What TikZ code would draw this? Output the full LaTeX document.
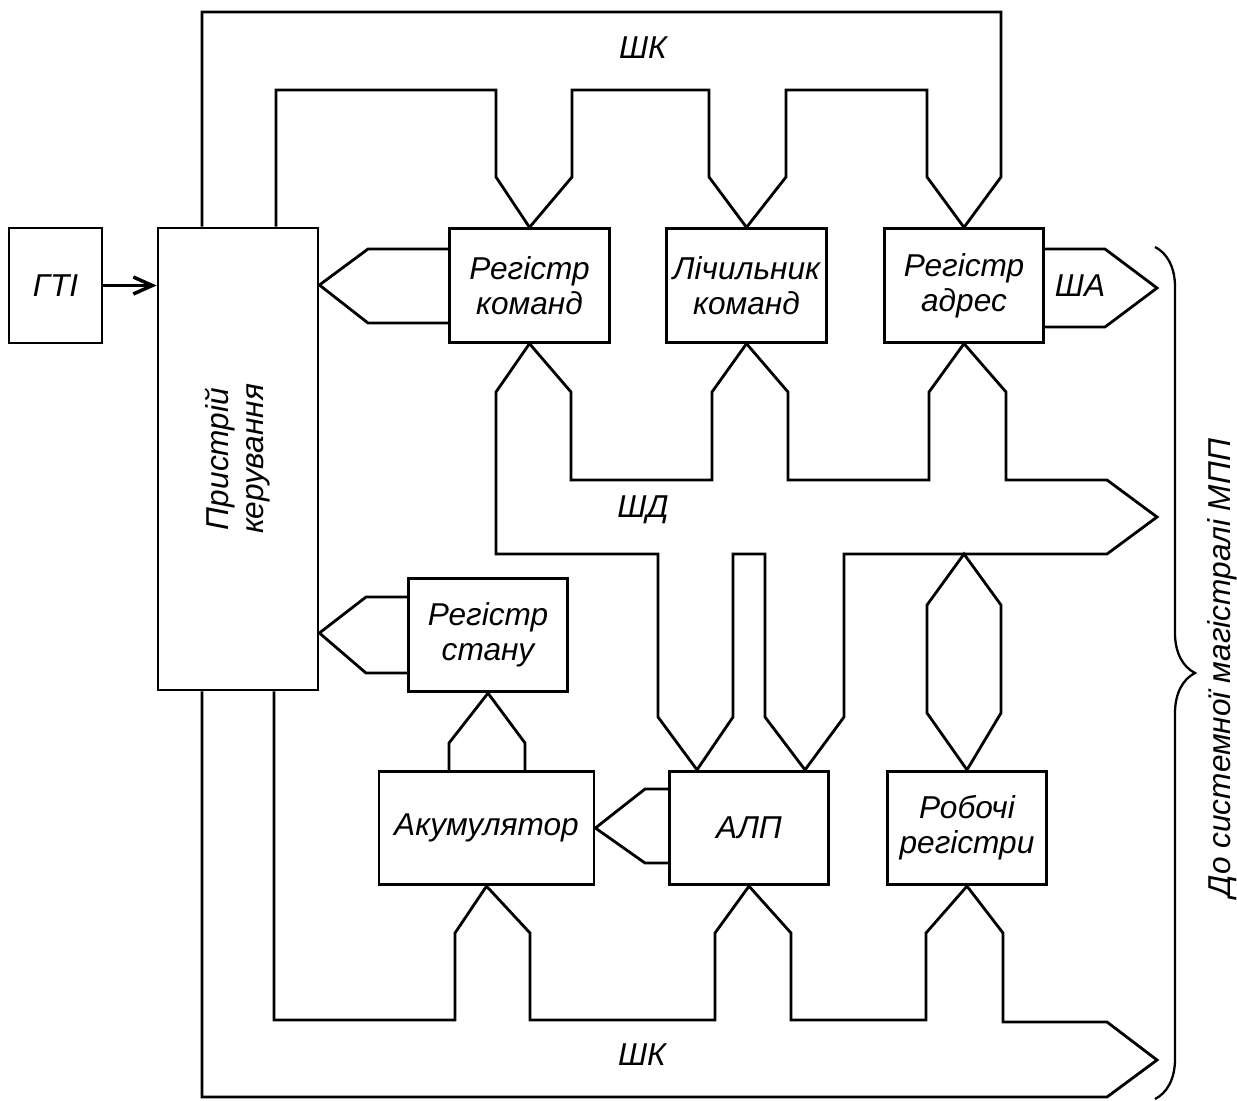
\documentclass[tikz,border=0pt]{standalone}
\usepackage{fontspec}
\setmainfont{Liberation Sans}
\usetikzlibrary{arrows.meta, decorations.pathreplacing}

\begin{document}
\begin{tikzpicture}[
    x=0.02cm, y=-0.02cm,
    txt/.style={font=\fontsize{18}{20}\selectfont\itshape},
    blk/.style={rectangle, draw, line width=1.6pt, inner sep=0pt, align=center, minimum width=3.19cm, minimum height=2.27cm, txt},
    bus/.style={line width=1.6pt}
]
\useasboundingbox (0,0) rectangle (1237,1100);

% blocks
\node[blk, minimum width=1.86cm, minimum height=2.3cm] (gti) at (55.5,285.5) {ГТІ};
\node[blk, minimum width=3.2cm, minimum height=9.24cm] (pk) at (238,459) {};
\node[txt, rotate=90, align=center] (pktext) at (pk.center) {Пристрій\\керування};
\node[blk] (rk) at (529.5,285.5) {Регістр\\команд};
\node[blk] (lk) at (746.5,285.5) {Лічильник\\команд};
\node[blk] (ra) at (964,285.5) {Регістр\\адрес};
\node[blk] (rs) at (488,635) {Регістр\\стану};
\node[blk, minimum width=4.3cm] (ak) at (486.5,828) {Акумулятор};
\node[blk] (alu) at (749,828) {АЛП};
\node[blk] (rr) at (967,828) {Робочі\\регістри};

% clock
\draw[line width=2pt, -{Straight Barb[length=0.38cm, width=0.34cm]}] (gti.east) -- (gti.east -| pk.west);

% control bus, top
\draw[bus] (pk.north -| 202,0) -- (202,12) -- (1001,12) -- (1001,177) -- (ra.north);
\draw[bus] (pk.north -| 276,0) -- (276,90) -- (496,90) -- (496,177) -- (rk.north) -- (572,177) -- (572,90)
    -- (709,90) -- (709,177) -- (lk.north) -- (786,177) -- (786,90)
    -- (927,90) -- (927,177) -- (ra.north);
\node[txt] (shk1) at (643,48) {ШК};

% command register to control unit
\draw[bus] (rk.west |- 0,249) -- (368,249) -- (pk.east |- 0,285) -- (368,323) -- (rk.west |- 0,323);

% address bus
\draw[bus] (ra.east |- 0,249) -- (1105,249) -- (1157,288) -- (1105,327) -- (ra.east |- 0,327);
\node[txt] (sha) at (1080,286) {ША};

% data bus
\draw[bus] (rk.south) -- (496,392) -- (496,554) -- (658,554) -- (658,717) -- (alu.north -| 697,0)
    -- (733,717) -- (733,554) -- (765,554) -- (765,717) -- (alu.north -| 805,0)
    -- (844,717) -- (844,554) -- (1107,554) -- (1157,517) -- (1107,480)
    -- (1006,480) -- (1006,392) -- (ra.south) -- (929,392) -- (929,480)
    -- (788,480) -- (788,392) -- (lk.south) -- (712,392) -- (712,480)
    -- (571,480) -- (571,392) -- cycle;
\node[txt] (shd) at (643,510) {ШД};
\draw[bus] (964,554) -- (927,605) -- (927,713) -- (rr.north) -- (1001,713) -- (1001,605) -- cycle;

% status register
\draw[bus] (rs.west |- 0,597) -- (366,597) -- (pk.east |- 0,633) -- (366,673) -- (rs.west |- 0,673);
\draw[bus] (ak.north -| 449,0) -- (449,743) -- (rs.south) -- (525,743) -- (ak.north -| 525,0);

% ALU to accumulator
\draw[bus] (alu.west |- 0,789) -- (645,789) -- (ak.east) -- (645,863) -- (alu.west |- 0,863);

% control bus, bottom
\draw[bus] (pk.south -| 202,0) -- (202,1097) -- (1107,1097) -- (1157,1060) -- (1107,1022)
    -- (1003,1022) -- (1003,933) -- (rr.south) -- (926,933) -- (926,1020)
    -- (791,1020) -- (791,933) -- (alu.south) -- (715,933) -- (715,1020)
    -- (530,1020) -- (530,933) -- (ak.south) -- (455,933) -- (455,1020)
    -- (274,1020) -- (pk.south -| 274,0);
\node[txt] (shk2) at (642,1055) {ШК};

% system bus
\draw[line width=1.3pt, decorate, decoration={brace, amplitude=0.8cm}] (1155,247) -- (1155,1099);
\node[txt, rotate=90] (mpp) at (1222,668) {До системної магістралі МПП};
\end{tikzpicture}
\end{document}
